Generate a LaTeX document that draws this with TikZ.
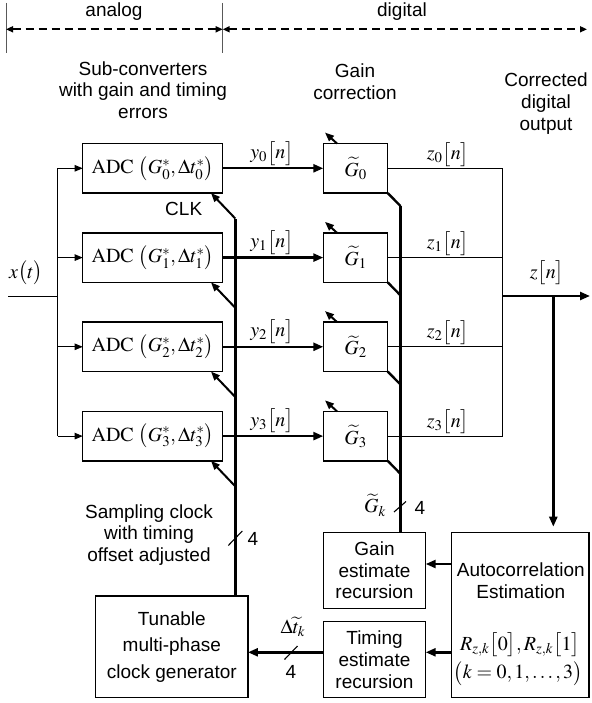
\documentclass[tikz,border=0pt]{standalone}
\usepackage{mathptmx}
\usepackage[no-math]{fontspec}
\setmainfont{Liberation Serif}
\newfontfamily\arialf{Liberation Sans}
\usetikzlibrary{arrows.meta,calc}
\begin{document}
\begin{tikzpicture}[x=1pt,y=-1pt,
  every node/.style={inner sep=0pt,outer sep=0pt},
  box/.style={draw,line width=1.3pt,inner sep=0pt},
  stxt/.style={font=\arialf\fontsize{19}{21.7}\selectfont,align=center},
  mtxt/.style={font=\fontsize{20}{24}\selectfont},
  thinw/.style={line width=0.9pt},
  thickw/.style={line width=2.4pt},
  tarr/.style={thickw,-{Triangle[length=10pt,width=8pt]}},
  carr/.style={line width=2pt,-{Triangle[length=9pt,width=7pt]}},
  iarr/.style={thinw,-{Triangle[length=8pt,width=6.5pt]}},
  slashmark/.style={line width=1.1pt},
  dasharr/.style={line width=1.6pt,dash pattern=on 8pt off 5pt,{Triangle[length=7pt,width=6pt]}-{Triangle[length=7pt,width=6pt]}},
  tick/.style={line width=1pt,black!65}
]
\useasboundingbox (0,0) rectangle (591,703);

% ---- top: analog / digital
\coordinate (ta) at (6,29.3);
\coordinate (tb) at (222.7,29.3);
\coordinate (tc) at (587,29.3);
\draw[tick] (6,3) -- (6,53);
\draw[tick] (222.7,3) -- (222.7,53);
\draw[dasharr] (ta) -- (tb);
\draw[dasharr] (tb) -- (tc);
\node[stxt] (analog) at (114,12) {analog};
\node[stxt] (digital) at (402,12) {digital};

\node[stxt] (subc) at (143,90) {Sub-converters\\with gain and timing\\errors};
\node[stxt] (gcorr) at (355,82) {Gain\\correction};
\node[stxt] (corr) at (546,103.5) {Corrected\\digital\\output};

% ---- boxes
\node[box,minimum width=137.3pt,minimum height=165pt] (auto) at (520.3,615.2) {};
\node[stxt] (autotxt) at (520.8,581) {Autocorrelation\\Estimation};
\node[mtxt] (autoR) at (520,645) {$R_{z,k}\bigl[0\bigr], R_{z,k}\bigl[1\bigr]$};
\node[mtxt] (autok) at (518,673.3) {$\bigl(k=0,1,\ldots,3\bigr)$};

\node[box,stxt,minimum width=102.4pt,minimum height=76pt] (gainest) at (374.5,570.3) {Gain\\estimate\\recursion};
\node[box,stxt,minimum width=102.4pt,minimum height=76pt] (timest) at (374.5,659.7) {Timing\\estimate\\recursion};
\node[box,stxt,font=\arialf\fontsize{19}{26.7}\selectfont,minimum width=152.3pt,minimum height=101.7pt] (tunable) at (171.8,646.8) {Tunable\\multi-phase\\clock generator};

% ---- input x(t)
\coordinate (xin) at (8,296.7);
\coordinate (xj) at (57.7,296.7);
\node[mtxt] (xlab) at (26,273) {$x\bigl(t\bigr)$};
\draw[thinw] (xin) -- (xj);

\foreach \i/\y in {0/168.3,1/257.6,2/346.8,3/436.1}{
  \node[box,mtxt,minimum width=140pt,minimum height=49.5pt] (adc\i) at (152.7,\y) {$\mathrm{ADC}\ \bigl(G_{\i}^{*},\Delta t_{\i}^{*}\bigr)$};
  \node[box,mtxt,minimum width=64.4pt,minimum height=49.5pt] (g\i) at (355.5,\y) {$\widetilde{G}_{\i}$};
  \coordinate (xj\i) at (57.7,\y);
  \draw[iarr] (xj\i) -- (adc\i.west);
  \draw[tarr] (adc\i.east) -- (g\i.west);
  \node[mtxt] (ylab\i) at (272,{\y-15}) {$y_{\i}\bigl[n\bigr]$};
  \coordinate (zj\i) at (502.7,\y);
  \draw[thinw] (g\i.east) -- (zj\i);
  \node[mtxt] (zlab\i) at (448,{\y-14}) {$z_{\i}\bigl[n\bigr]$};
  % clock arrows
  \coordinate (ck\i) at (235.3,{\y+24.75+25.5});
  \draw[carr] (ck\i) -- ($(adc\i.south east)+(-11.7,0)$);
  % gain update arrows
  \draw[carr] ($(g\i.north west)+(13.7,0)$) -- ($(g\i.north west)+(1.7,-11)$);
  \coordinate (gd\i) at ($(g\i.south east)+(12.8,13)$);
  \draw[thickw] (g\i.south east) -- (gd\i);
}
\draw[thinw] (xj0) -- (xj3);
\draw[thinw] (zj0) -- (zj3);

\node[stxt] (clk) at (183.7,209.3) {CLK};

% clock bus
\draw[thickw] (tunable.north -| ck0) -- (ck0);
\draw[slashmark] (228.3,545.5) -- (242.3,531);
\node[stxt] (four1) at (253,539) {4};
\node[stxt] (samp) at (149,535) {Sampling clock\\with timing\\offset adjusted};

% gain bus
\draw[thickw] (gd0) -- (gainest.north -| gd0);
\draw[slashmark] (394,512) -- (406,501.5);
\node[stxt] (four2) at (420,508) {4};
\node[mtxt] (gklab) at (375,505) {$\widetilde{G}_{k}$};

% output
\coordinate (zo) at (502.7,296);
\coordinate (zend) at (590,296);
\coordinate (zb) at (553.3,296);
\draw[tarr] (zo) -- (zend);
\node[mtxt] (zlab) at (547,273) {$z\bigl[n\bigr]$};
\draw[tarr,shorten >=6pt] (zb) -- (auto.north -| zb);

% estimates
\coordinate (h1) at (0,564);
\coordinate (h2) at (0,652.3);
\draw[tarr] (auto.west |- h1) -- (gainest.east |- h1);
\draw[tarr] (auto.west |- h2) -- (timest.east |- h2);
\draw[tarr] (timest.west |- h2) -- (tunable.east |- h2);
\draw[slashmark] (284.5,659.5) -- (297.5,646);
\node[stxt] (four3) at (291,672) {4};
\node[mtxt] (dtlab) at (293,627) {$\Delta\widetilde{t}_{k}$};
\end{tikzpicture}
\end{document}
